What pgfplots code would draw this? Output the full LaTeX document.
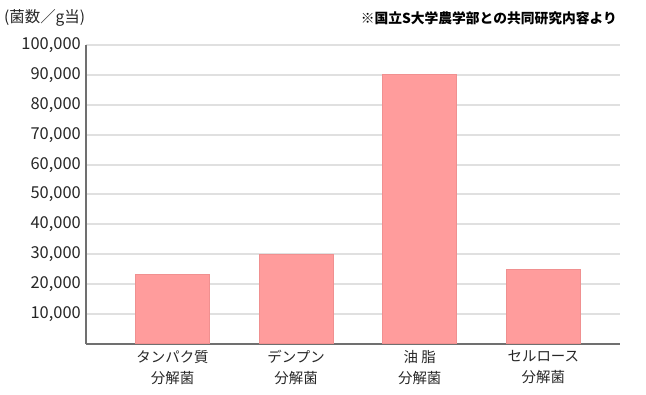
\documentclass[border=0pt]{standalone}
\usepackage{pgfplots}
\pgfplotsset{compat=1.18}
\usepackage{fontspec}
\setmainfont{Noto Sans CJK JP}
\definecolor{barfill}{HTML}{FF9C9C}
\definecolor{baredge}{HTML}{F09090}
\definecolor{gridc}{HTML}{E0E0E0}
\definecolor{axisc}{HTML}{707070}
\begin{document}
\begin{tikzpicture}
\useasboundingbox (0bp,0bp) rectangle (646bp,395bp);
\begin{axis}[
  at={(86bp,51bp)}, anchor=south west,
  scale only axis, width=534bp, height=299bp,
  xmin=-0.7, xmax=3.62, ymin=0, ymax=100000,
  axis x line*=bottom, axis y line*=left,
  axis line style={axisc, line width=1.5bp, -},
  major tick length=0pt,
  ytick={10000,20000,30000,40000,50000,60000,70000,80000,90000,100000},
  yticklabels={{10,000},{20,000},{30,000},{40,000},{50,000},{60,000},{70,000},{80,000},{90,000},{100,000}},
  scaled y ticks=false,
  yticklabel style={anchor=east, inner sep=0pt, xshift=-5bp, font=\fontsize{16.5}{18}\selectfont, text=black!85},
  xtick={0,1,2,3},
  xticklabels={{タンパク質\\分解菌},{デンプン\\分解菌},{油 脂\\分解菌},{セルロース\\分解菌}},
  xticklabel style={align=center, anchor=north, inner sep=0pt, yshift=-6bp, font=\fontsize{14.5}{21}\selectfont, text=black!85},
  ymajorgrids, grid style={gridc, line width=2bp},
  ybar, bar width=74bp,
]
\addplot[fill=barfill, draw=baredge, line width=1bp, bar shift=0pt]
  coordinates {(0,23200) (1,30000) (2,90000) (3,25000)};
\end{axis}
\node[anchor=west, inner sep=0pt, font=\fontsize{15.5}{17}\selectfont, text=black!85] at (4bp,377bp) {(菌数／g当)};
\node[anchor=east, inner sep=0pt, font=\fontsize{13.8}{15}\selectfont\bfseries] at (617bp,377bp) {※国立S大学農学部との共同研究内容より};
\end{tikzpicture}
\end{document}
